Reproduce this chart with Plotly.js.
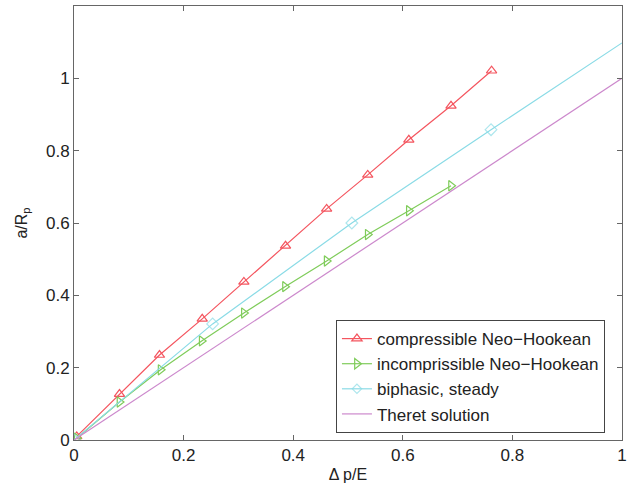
<!DOCTYPE html>
<html>
<head>
<meta charset="utf-8">
<script src="https://cdn.plot.ly/plotly-3.0.1.min.js"></script>
<style>html,body{margin:0;padding:0;background:#fff;}#chart{width:636px;height:485px;}</style>
</head>
<body>
<div id="chart"></div>
<script>
// compressible Neo-Hookean
const compX = [0.005, 0.083, 0.156, 0.234, 0.310, 0.386, 0.461, 0.536, 0.611, 0.688, 0.762];
const compY = [0.010, 0.127, 0.235, 0.335, 0.437, 0.537, 0.639, 0.733, 0.830, 0.924, 1.021];
// incompressible Neo-Hookean
const incX = [0.005, 0.083, 0.158, 0.233, 0.310, 0.385, 0.461, 0.536, 0.611, 0.688];
const incY = [0.005, 0.105, 0.194, 0.274, 0.351, 0.424, 0.495, 0.568, 0.634, 0.703];
// biphasic, steady
const biX = [0.0, 0.253, 0.507, 0.761, 1.0];
const biY = [0.0, 0.321, 0.600, 0.858, 1.098];
const biMarkerSizes = [9, 9, 9, 9, 0];
// Theret solution
const thX = [0, 1];
const thY = [0, 1];

const xTicks = [0, 0.2, 0.4, 0.6, 0.8, 1];
const xTickText = ['0', '0.2', '0.4', '0.6', '0.8', '1'];
const yTicks = [0, 0.2, 0.4, 0.6, 0.8, 1];
const yTickText = ['0', '0.2', '0.4', '0.6', '0.8', '1'];

const FONT = 'Liberation Sans, Arial, sans-serif';

const traces = [
  {x: compX, y: compY, name: 'compressible Neo\u2212Hookean', mode: 'lines+markers',
   line: {color: '#f4555f', width: 1.2}, marker: {symbol: 'triangle-up-open', size: 9, color: '#f4555f', line: {width: 1.2}}},
  {x: incX, y: incY, name: 'incomprissible Neo\u2212Hookean', mode: 'lines+markers',
   line: {color: '#7fcc5a', width: 1.2}, marker: {symbol: 'triangle-right-open', size: 9, color: '#7fcc5a', line: {width: 1.2}}},
  {x: biX, y: biY, name: 'biphasic, steady', mode: 'lines+markers',
   line: {color: '#8adbe6', width: 1.2}, marker: {symbol: 'diamond-open', size: biMarkerSizes, color: '#8adbe6', line: {width: 1.2}}},
  {x: thX, y: thY, name: 'Theret solution', mode: 'lines',
   line: {color: '#cc88cc', width: 1.2}}
];

const axisCommon = {
  showgrid: false, zeroline: false, showline: true, linecolor: '#666', linewidth: 1,
  mirror: 'ticks', ticks: 'inside', ticklen: 5, tickcolor: '#666',
  tickfont: {family: FONT, size: 17, color: '#222'}
};

const layout = {
  width: 636, height: 485,
  margin: {l: 74, r: 14, t: 6, b: 45},
  paper_bgcolor: '#fff', plot_bgcolor: '#fff',
  showlegend: true,
  xaxis: Object.assign({}, axisCommon, {range: [0, 1], tickvals: xTicks, ticktext: xTickText,
    title: {text: '\u0394 p/E', font: {family: FONT, size: 16, color: '#222'}, standoff: 4}}),
  yaxis: Object.assign({}, axisCommon, {range: [0, 1.2], tickvals: yTicks, ticktext: yTickText,
    title: {text: 'a/R<sub>p</sub>', font: {family: FONT, size: 16, color: '#222'}, standoff: 14}}),
  legend: {x: 0.478, y: 0.016, xanchor: 'left', yanchor: 'bottom',
    bgcolor: '#fff', bordercolor: '#444', borderwidth: 1,
    font: {family: FONT, size: 17, color: '#222'},
    tracegroupgap: 0, itemwidth: 30}
};

Plotly.newPlot('chart', traces, layout, {displayModeBar: false, staticPlot: true});
</script>
</body>
</html>
